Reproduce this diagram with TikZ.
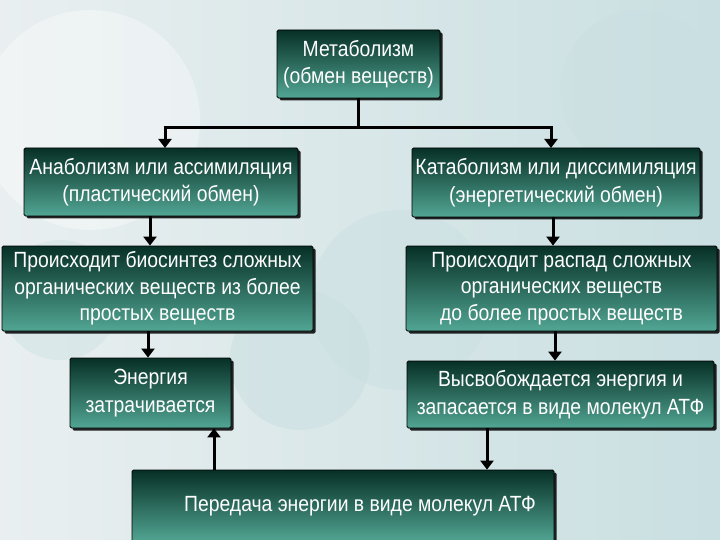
\documentclass[tikz,border=0pt]{standalone}
\usepackage{fontspec}
\setmainfont{Liberation Sans}[FakeStretch=0.88]
\usetikzlibrary{shadows,arrows.meta}
\definecolor{bgA}{HTML}{E9EFF0}
\definecolor{bgB}{HTML}{C9DFE1}
\definecolor{boxTop}{HTML}{073026}
\definecolor{boxMid}{HTML}{0E4639}
\definecolor{boxBot}{HTML}{52A694}
\tikzset{
  gbox/.style={draw=black, line width=0.8pt, rectangle, rounded corners=1.5pt,
    top color=boxTop, middle color=boxMid, bottom color=boxBot,
    text=white, align=center, font=\fontsize{22}{27.5}\selectfont, inner sep=0pt,
    drop shadow={shadow xshift=2.5pt, shadow yshift=-2.5pt, fill=black, opacity=0.85}},
  three/.style={font=\fontsize{22}{26.5}\selectfont},
  conn/.style={line width=3pt, black},
  arr/.style={conn, -{Triangle[width=13pt,length=9pt]}}
}
\begin{document}
\begin{tikzpicture}[x=1pt,y=-1pt]
\useasboundingbox (0,0) rectangle (720,540);
\shade[left color=bgA, right color=bgB] (0,0) rectangle (720,540);
\fill[white, opacity=0.35] (90,120) circle (110);
\fill[bgB, opacity=0.5] (300,360) circle (70);
\fill[bgB, opacity=0.45] (400,300) circle (90);
\fill[bgB, opacity=0.4] (60,300) circle (60);
\fill[bgB, opacity=0.4] (640,90) circle (80);

\node[gbox, minimum width=163, minimum height=68] (met) at (358.5,64) {Метаболизм\\(обмен веществ)};
\node[gbox, minimum width=274, minimum height=68] (ana) at (161,182) {Анаболизм или ассимиляция\\(пластический обмен)};
\node[gbox, minimum width=288, minimum height=69] (kat) at (556,182.5) {Катаболизм или диссимиляция\\(энергетический обмен)};
\node[gbox, three, minimum width=311, minimum height=85] (bio) at (157.5,288.5) {Происходит биосинтез сложных\\органических веществ из более\\простых веществ};
\node[gbox, three, minimum width=311, minimum height=85] (ras) at (561.5,288.5) {Происходит распад сложных\\органических веществ\\до более простых веществ};
\node[gbox, minimum width=161, minimum height=70] (ene) at (150.5,393) {Энергия\\затрачивается};
\node[gbox, minimum width=307, minimum height=67] (vys) at (560.5,394.5) {Высвобождается энергия и\\запасается в виде молекул АТФ};
\node[gbox, minimum width=422, minimum height=72] (per) at (343,506) {\hspace*{34pt}Передача энергии в виде молекул АТФ};

\coordinate (j) at (358.5,128);
\draw[conn] (met.south) -- (j);
\draw[conn] (163.5,128) -- (552.5,128);
\draw[arr] (165,128) -- (165,148);
\draw[arr] (551,128) -- (551,148);
\draw[arr] (ana.south -| 150,0) -- (bio.north -| 150,0);
\draw[arr] (bio.south -| 148,0) -- (ene.north -| 148,0);
\draw[arr] (kat.south -| 553,0) -- (ras.north -| 553,0);
\draw[arr] (ras.south -| 555,0) -- (vys.north -| 555,0);
\draw[arr] (vys.south -| 487,0) -- (per.north -| 487,0);
\draw[arr] (per.north -| 214,0) -- (ene.south -| 214,0);
\end{tikzpicture}
\end{document}
